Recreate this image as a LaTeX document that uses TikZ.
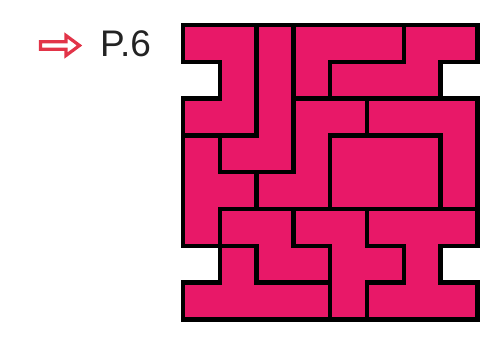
\documentclass[tikz,border=0pt]{standalone}
\usepackage{fontspec}
\setmainfont{Liberation Sans}
\usetikzlibrary{calc}

\definecolor{rosa}{RGB}{232,24,104}
\definecolor{rossofreccia}{RGB}{226,52,72}
\definecolor{grigiotesto}{RGB}{35,35,35}

\begin{document}
\begin{tikzpicture}[x=1pt, y=-1pt,
    pezzo/.style={draw=black, fill=rosa, line width=4.5pt, line join=miter}]

    \useasboundingbox (0,0) rectangle (502,340);

    % === Parametri della griglia ===
    \def\cella{36.8}   % Lato della cella (pt)
    \def\gx{183}       % Bordo sinistro della griglia
    \def\gy{25}        % Bordo superiore della griglia

    % === 1. Freccia e riferimento di pagina ===
    \node[anchor=base west, inner sep=0pt, text=grigiotesto,
          font=\fontsize{37}{37}\selectfont] (pagina) at (100,56) {P.6};
    \coordinate (punta) at (79.5,45.5);
    \draw[rossofreccia, line width=3.2pt, line join=miter, fill=white]
        (40.5,41.8) -- (66,41.8) -- (66,35.5) -- (punta) -- (66,55.5) -- (66,49.2) -- (40.5,49.2) -- cycle;

    % === 2. Pezzi del puzzle (coordinate in celle: colonna, riga) ===
    \begin{scope}[xshift=\gx pt, yshift=-\gy pt, x=\cella pt, y=-\cella pt]
        % Pezzo a U (alto a sinistra)
        \draw[pezzo] (0,0) -- (2,0) -- (2,3) -- (0,3) -- (0,2) -- (1,2) -- (1,1) -- (0,1) -- cycle;
        % Pezzo a L verticale
        \draw[pezzo] (2,0) -- (3,0) -- (3,4) -- (1,4) -- (1,3) -- (2,3) -- cycle;
        % Pezzo a T (bordo sinistro)
        \draw[pezzo] (0,3) -- (1,3) -- (1,4) -- (2,4) -- (2,5) -- (1,5) -- (1,6) -- (0,6) -- cycle;
        % Pezzo a L in alto
        \draw[pezzo] (3,0) -- (6,0) -- (6,1) -- (4,1) -- (4,2) -- (3,2) -- cycle;
        % Pezzo a N (alto a destra)
        \draw[pezzo] (6,0) -- (8,0) -- (8,1) -- (7,1) -- (7,2) -- (4,2) -- (4,1) -- (6,1) -- cycle;
        % Pezzo a Z
        \draw[pezzo] (3,2) -- (5,2) -- (5,3) -- (4,3) -- (4,5) -- (2,5) -- (2,4) -- (3,4) -- cycle;
        % Pezzo a V (bordo destro)
        \draw[pezzo] (5,2) -- (8,2) -- (8,5) -- (7,5) -- (7,3) -- (5,3) -- cycle;
        % Rettangolo centrale
        \draw[pezzo] (4,3) rectangle (7,5);
        % Pezzo a S
        \draw[pezzo] (1,5) -- (3,5) -- (3,6) -- (4,6) -- (4,7) -- (2,7) -- (2,6) -- (1,6) -- cycle;
        % Pezzo a Y (basso a sinistra)
        \draw[pezzo] (1,6) -- (2,6) -- (2,7) -- (4,7) -- (4,8) -- (0,8) -- (0,7) -- (1,7) -- cycle;
        % Pezzo a croce spostata
        \draw[pezzo] (3,5) -- (5,5) -- (5,6) -- (6,6) -- (6,7) -- (5,7) -- (5,8) -- (4,8) -- (4,6) -- (3,6) -- cycle;
        % Pezzo a doppia T (basso a destra)
        \draw[pezzo] (5,5) -- (8,5) -- (8,6) -- (7,6) -- (7,7) -- (8,7) -- (8,8) -- (5,8)
            -- (5,7) -- (6,7) -- (6,6) -- (5,6) -- cycle;
    \end{scope}

\end{tikzpicture}
\end{document}
